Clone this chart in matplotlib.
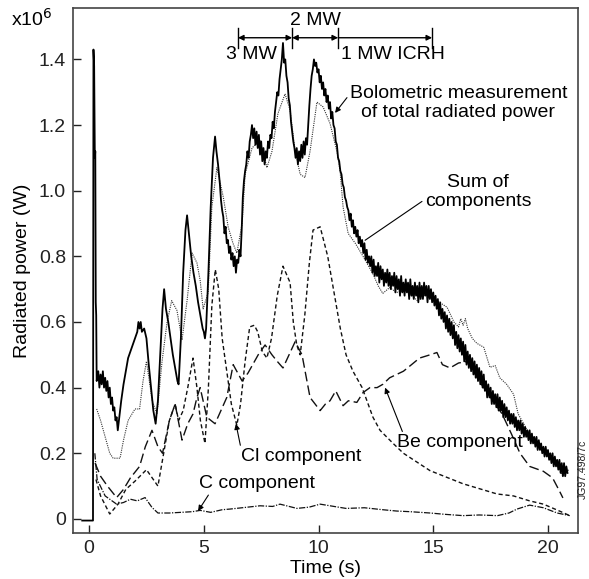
import matplotlib
matplotlib.use("Agg")
import matplotlib.pyplot as plt

plt.rcParams['font.family'] = ['Liberation Sans', 'DejaVu Sans']

# ---- data (time in s, power in 1e6 W) ----
bolo_t = [-0.3, 0.17, 0.19, 0.22, 0.25, 0.27, 0.29, 0.31, 0.33,
          0.4, 0.45, 0.5, 0.55, 0.6, 0.65, 0.7, 0.75, 0.8, 0.85, 0.9, 0.95, 1.0, 1.05, 1.1, 1.15, 1.2, 1.25, 1.3,
          1.4, 1.5, 1.6, 1.7, 1.8, 1.9, 2.0, 2.1, 2.15, 2.2, 2.25, 2.3, 2.4, 2.5, 2.6, 2.7, 2.8, 2.9,
          3.0, 3.1, 3.2, 3.27, 3.35, 3.45, 3.55, 3.65, 3.75, 3.85, 3.9, 4.0, 4.1, 4.2, 4.27, 4.35, 4.45,
          4.55, 4.65, 4.75, 4.85, 4.9, 4.95, 5.0, 5.05, 5.1, 5.2, 5.3, 5.4, 5.49, 5.55, 5.62, 5.7, 5.75,
          5.8, 5.85, 5.9, 5.95, 6.0, 6.05, 6.1, 6.15, 6.2, 6.25, 6.3, 6.35, 6.4, 6.45, 6.5, 6.55, 6.6,
          6.65, 6.7, 6.75, 6.8, 6.85, 6.9, 6.95, 7.0, 7.05, 7.1, 7.15, 7.2, 7.25, 7.3, 7.35, 7.4, 7.45,
          7.5, 7.55, 7.6, 7.65, 7.7, 7.75, 7.8, 7.85, 7.9, 7.95, 8.0, 8.05, 8.1, 8.15, 8.2, 8.25, 8.3,
          8.35, 8.4, 8.45, 8.5, 8.55, 8.6, 8.65, 8.7, 8.75, 8.8, 8.85, 8.9, 8.95, 9.0, 9.05, 9.1, 9.15,
          9.2, 9.25, 9.3, 9.35, 9.4, 9.45, 9.5, 9.55, 9.6, 9.65, 9.7, 9.75, 9.8, 9.85, 9.9, 9.95, 10.0,
          10.05, 10.1, 10.15, 10.2, 10.25, 10.3, 10.35, 10.4, 10.45, 10.5, 10.55, 10.6, 10.65, 10.7,
          10.75, 10.8, 10.85, 10.9, 10.95, 11.0, 11.05, 11.1, 11.15, 11.2, 11.25, 11.3, 11.35, 11.4,
          11.45, 11.5, 11.55, 11.6, 11.65, 11.7, 11.75, 11.8, 11.85, 11.9, 11.95, 12.0, 12.05, 12.1,
          12.15, 12.2, 12.25, 12.3, 12.35, 12.4, 12.45, 12.5, 12.55, 12.6, 12.65, 12.7, 12.75, 12.8,
          12.85, 12.9, 12.95, 13.0, 13.05, 13.1, 13.15, 13.2, 13.25, 13.3, 13.35, 13.4, 13.45, 13.5,
          13.55, 13.6, 13.65, 13.7, 13.75, 13.8, 13.85, 13.9, 13.95, 14.0, 14.05, 14.1, 14.15, 14.2,
          14.25, 14.3, 14.35, 14.4, 14.45, 14.5, 14.55, 14.6, 14.65, 14.7, 14.75, 14.8, 14.85, 14.9,
          14.95, 15.0, 15.05, 15.1, 15.15, 15.2, 15.25, 15.3, 15.35, 15.4, 15.45, 15.5, 15.55, 15.6,
          15.65, 15.7, 15.75, 15.8, 15.85, 15.9, 15.95, 16.0, 16.05, 16.1, 16.15, 16.2, 16.25, 16.3,
          16.35, 16.4, 16.45, 16.5, 16.55, 16.6, 16.65, 16.7, 16.75, 16.8, 16.85, 16.9, 16.95, 17.0,
          17.05, 17.1, 17.15, 17.2, 17.25, 17.3, 17.35, 17.4, 17.45, 17.5, 17.55, 17.6, 17.65, 17.7,
          17.75, 17.8, 17.85, 17.9, 17.95, 18.0, 18.05, 18.1, 18.15, 18.2, 18.25, 18.3, 18.35, 18.4,
          18.45, 18.5, 18.55, 18.6, 18.65, 18.7, 18.75, 18.8, 18.85, 18.9, 18.95, 19.0, 19.05, 19.1,
          19.15, 19.2, 19.25, 19.3, 19.35, 19.4, 19.45, 19.5, 19.55, 19.6, 19.65, 19.7, 19.75, 19.8,
          19.85, 19.9, 19.95, 20.0, 20.05, 20.1, 20.15, 20.2, 20.25, 20.3, 20.35, 20.4, 20.45, 20.5,
          20.55, 20.6, 20.65, 20.7, 20.75, 20.8, 20.85]
bolo_v = [-0.005, -0.005, 1.43, 1.38, 1.10, 1.12, 0.66, 0.62, 0.42,
          0.45, 0.40, 0.44, 0.41, 0.45, 0.40, 0.43, 0.39, 0.42, 0.37, 0.40, 0.35, 0.37, 0.33, 0.34, 0.30, 0.31, 0.27, 0.30,
          0.36, 0.41, 0.45, 0.49, 0.51, 0.53, 0.55, 0.57, 0.60, 0.58, 0.60, 0.57, 0.58, 0.55, 0.47, 0.40, 0.33, 0.29,
          0.36, 0.50, 0.64, 0.70, 0.64, 0.60, 0.55, 0.50, 0.46, 0.42, 0.41, 0.55, 0.75, 0.88, 0.925, 0.87, 0.80,
          0.75, 0.71, 0.66, 0.62, 0.60, 0.58, 0.57, 0.55, 0.58, 0.75, 0.95, 1.10, 1.165, 1.12, 1.08, 1.02, 0.97,
          0.94, 0.92, 0.87, 0.89, 0.84, 0.85, 0.81, 0.83, 0.79, 0.81, 0.77, 0.80, 0.75, 0.79, 0.78, 0.82, 0.80,
          0.88, 0.98, 1.03, 1.06, 1.08, 1.12, 1.10, 1.15, 1.17, 1.20, 1.16, 1.19, 1.14, 1.18, 1.13, 1.17, 1.11,
          1.15, 1.09, 1.13, 1.08, 1.12, 1.10, 1.15, 1.13, 1.17, 1.16, 1.21, 1.19, 1.24, 1.27, 1.30, 1.29, 1.34,
          1.37, 1.40, 1.45, 1.39, 1.40, 1.35, 1.33, 1.28, 1.26, 1.21, 1.18, 1.15, 1.13, 1.10, 1.13, 1.08, 1.12,
          1.09, 1.14, 1.10, 1.15, 1.11, 1.16, 1.14, 1.20, 1.26, 1.31, 1.35, 1.37, 1.40, 1.38, 1.39, 1.36, 1.37,
          1.33, 1.35, 1.31, 1.33, 1.29, 1.31, 1.27, 1.29, 1.25, 1.27, 1.22, 1.24, 1.20, 1.19,
          1.15, 1.14, 1.10, 1.09, 1.06, 1.05, 1.02, 1.01, 0.98, 0.97, 0.95, 0.94, 0.91, 0.93,
          0.89, 0.91, 0.87, 0.89, 0.86, 0.88, 0.84, 0.86, 0.83, 0.85, 0.81, 0.84, 0.79, 0.82,
          0.78, 0.80, 0.77, 0.80, 0.75, 0.79, 0.74, 0.77, 0.74, 0.78, 0.72, 0.77, 0.73, 0.76,
          0.71, 0.75, 0.72, 0.76, 0.71, 0.75, 0.70, 0.74, 0.71, 0.75, 0.69, 0.74, 0.70, 0.73,
          0.68, 0.74, 0.69, 0.72, 0.68, 0.73, 0.69, 0.72, 0.67, 0.73, 0.68, 0.71, 0.67, 0.72,
          0.68, 0.71, 0.66, 0.72, 0.67, 0.71, 0.67, 0.72, 0.68, 0.71, 0.66, 0.71, 0.67, 0.70,
          0.66, 0.69, 0.65, 0.68, 0.64, 0.67, 0.62, 0.66, 0.61, 0.64, 0.60, 0.63, 0.58, 0.62,
          0.57, 0.61, 0.56, 0.60, 0.55, 0.59, 0.53, 0.57, 0.52, 0.56, 0.51, 0.55, 0.50, 0.54,
          0.48, 0.53, 0.47, 0.51, 0.46, 0.50, 0.45, 0.49, 0.44, 0.48, 0.43, 0.47, 0.42, 0.46,
          0.41, 0.45, 0.40, 0.44, 0.39, 0.42, 0.37, 0.41, 0.37, 0.40, 0.35, 0.39, 0.35, 0.38,
          0.34, 0.38, 0.33, 0.37, 0.33, 0.36, 0.31, 0.35, 0.31, 0.34, 0.30, 0.33, 0.29, 0.32,
          0.29, 0.32, 0.28, 0.31, 0.27, 0.30, 0.27, 0.30, 0.26, 0.29, 0.25, 0.28, 0.25, 0.27,
          0.24, 0.27, 0.23, 0.26, 0.23, 0.25, 0.22, 0.25, 0.21, 0.24, 0.21, 0.23, 0.20, 0.22,
          0.19, 0.22, 0.19, 0.21, 0.18, 0.20, 0.17, 0.20, 0.16, 0.19, 0.16, 0.18, 0.15, 0.18,
          0.14, 0.17, 0.13, 0.17, 0.13, 0.16, 0.14]

sum_t = [0.33, 0.5, 0.7, 0.9, 1.05, 1.35, 1.5, 1.7, 2.0, 2.2, 2.35, 2.5, 2.75, 2.96, 3.18, 3.4, 3.6,
         3.83, 4.05, 4.27, 4.49, 4.7, 4.84, 4.97, 5.19, 5.35, 5.57, 5.85, 6.06, 6.27, 6.44, 6.67, 6.8,
         7.1, 7.45, 7.75, 7.97, 8.23, 8.54, 8.76, 8.98, 9.2, 9.41, 9.63, 9.93, 10.2, 10.5, 10.8, 10.94,
         11.07, 11.29, 11.6, 11.94, 12.37, 12.6, 12.8, 13.1, 13.4, 13.86, 14.3, 14.7, 15.16, 15.6, 15.9,
         16.1, 16.2, 16.3, 16.4, 16.5, 16.7, 16.9, 17.2, 17.47, 17.7, 17.9, 18.2, 18.5, 18.7, 19.1, 19.5,
         19.95, 20.4, 20.65, 20.9]
sum_v = [0.335, 0.30, 0.25, 0.20, 0.185, 0.185, 0.24, 0.30, 0.335, 0.335, 0.42, 0.48, 0.36, 0.32, 0.48,
         0.60, 0.665, 0.635, 0.545, 0.665, 0.81, 0.78, 0.727, 0.64, 0.69, 0.95, 1.07, 0.98, 0.89, 0.84,
         0.81, 0.90, 1.05, 1.13, 1.155, 1.07, 1.12, 1.235, 1.295, 1.245, 1.12, 1.05, 1.04, 1.12, 1.27,
         1.255, 1.205, 1.12, 1.06, 0.95, 0.87, 0.84, 0.80, 0.747, 0.71, 0.687, 0.705, 0.69, 0.697, 0.665,
         0.687, 0.665, 0.645, 0.60, 0.585, 0.61, 0.59, 0.61, 0.58, 0.55, 0.535, 0.523, 0.462, 0.467, 0.43,
         0.41, 0.38, 0.32, 0.27, 0.23, 0.20, 0.167, 0.13, 0.15]

cl_t = [0.3, 0.5, 0.9, 1.26, 1.6, 2.0, 2.5, 2.7, 3.0, 3.2, 3.5, 3.75, 3.9, 4.1, 4.3, 4.53, 4.7, 4.85,
        5.05, 5.2, 5.35, 5.5, 5.65, 5.8, 6.0, 6.2, 6.44, 6.6, 6.8, 7.0, 7.2, 7.35, 7.55, 7.75, 7.95, 8.2,
        8.45, 8.76, 8.9, 9.05, 9.2, 9.4, 9.6, 9.76, 10.07, 10.4, 10.7, 10.95, 11.2, 11.5, 11.9, 12.37,
        12.68, 13.25, 13.7, 14.86, 16.3, 17.78, 18.5, 19.2, 19.8, 20.5, 20.95]
cl_v = [0.12, 0.07, 0.015, 0.045, 0.09, 0.115, 0.15, 0.13, 0.10, 0.18, 0.30, 0.35, 0.30, 0.33, 0.40,
        0.49, 0.40, 0.30, 0.23, 0.40, 0.65, 0.76, 0.70, 0.55, 0.45, 0.35, 0.285, 0.35, 0.48, 0.585, 0.59,
        0.57, 0.51, 0.49, 0.55, 0.68, 0.77, 0.72, 0.60, 0.53, 0.50, 0.62, 0.78, 0.88, 0.89, 0.80, 0.68,
        0.58, 0.50, 0.45, 0.40, 0.31, 0.27, 0.23, 0.20, 0.147, 0.107, 0.076, 0.07, 0.055, 0.045, 0.024, 0.01]

be_t = [0.26, 0.5, 0.8, 1.2, 1.5, 1.8, 2.2, 2.45, 2.74, 3.0, 3.2, 3.5, 3.75, 4.05, 4.3, 4.53, 4.7, 4.84,
        5.13, 5.49, 6.0, 6.28, 6.67, 6.93, 7.37, 7.67, 7.97, 8.2, 8.45, 8.98, 9.28, 9.63, 10.07, 10.3,
        10.5, 10.75, 11.07, 11.3, 11.67, 11.94, 12.24, 12.55, 12.8, 13.1, 13.4, 13.7, 14.0, 14.4, 14.86,
        15.16, 15.4, 15.73, 16.1, 16.5, 17.0, 17.5, 18.0, 18.4, 18.78, 19.2, 19.8, 20.2, 20.5, 20.65]
be_v = [0.17, 0.13, 0.10, 0.065, 0.09, 0.125, 0.16, 0.22, 0.27, 0.22, 0.20, 0.30, 0.35, 0.24, 0.29, 0.32,
        0.37, 0.40, 0.31, 0.29, 0.37, 0.47, 0.42, 0.445, 0.50, 0.53, 0.50, 0.48, 0.46, 0.54, 0.50, 0.37,
        0.33, 0.35, 0.36, 0.39, 0.345, 0.36, 0.355, 0.385, 0.40, 0.40, 0.41, 0.43, 0.44, 0.45, 0.467,
        0.49, 0.50, 0.507, 0.47, 0.46, 0.475, 0.48, 0.42, 0.37, 0.32, 0.26, 0.20, 0.16, 0.145, 0.125,
        0.085, 0.064]

c_t = [0.25, 0.35, 0.7, 1.2, 1.5, 1.8, 2.1, 2.44, 2.74, 3.0, 3.5, 4.0, 4.5, 4.84, 5.3, 5.8, 6.14, 6.8,
       7.45, 8.0, 8.32, 9.06, 9.6, 10.07, 10.5, 11.2, 12.0, 12.8, 13.4, 14.0, 14.86, 15.5, 16.3, 17.0,
       17.8, 18.3, 18.65, 19.2, 19.8, 20.4, 20.95]
c_v = [0.20, 0.12, 0.07, 0.045, 0.05, 0.06, 0.055, 0.065, 0.035, 0.018, 0.018, 0.02, 0.022, 0.026, 0.02,
       0.028, 0.03, 0.035, 0.04, 0.038, 0.045, 0.032, 0.036, 0.045, 0.04, 0.032, 0.034, 0.028, 0.024,
       0.022, 0.018, 0.014, 0.01, 0.012, 0.01, 0.018, 0.03, 0.042, 0.034, 0.018, 0.01]

x_ticks = [0, 5, 10, 15, 20]
y_ticks = [0, 0.2, 0.4, 0.6, 0.8, 1.0, 1.2, 1.4]
y_tick_labels = ['0', '0.2', '0.4', '0.6', '0.8', '1.0', '1.2', '1.4']

# heating phases along the top: boundaries in s and labels
phase_edges = [6.49, 8.85, 10.85, 14.95]

fig = plt.figure(figsize=(5.89, 5.79), dpi=100)
ax = fig.add_axes([0.124, 0.0794, 0.857, 0.907])

ink = '#111111'
ax.plot(c_t, c_v, color=ink, lw=0.9, ls=(0, (5, 1.2, 1, 1.2)))
ax.plot(be_t, be_v, color=ink, lw=1.0, ls=(0, (7, 3)))
ax.plot(cl_t, cl_v, color=ink, lw=1.0, ls=(0, (3, 2)))
ax.plot(sum_t, sum_v, color='#333333', lw=0.8, ls=(0, (1, 1)))
ax.plot(bolo_t, bolo_v, color='black', lw=1.3)

ax.set_xlim(-0.7, 21.3)
ax.set_ylim(-0.043, 1.557)
ax.set_xticks(x_ticks)
ax.set_yticks(y_ticks)
ax.set_yticklabels(y_tick_labels)
ax.tick_params(direction='in', length=6, width=1, labelsize=14, colors='#222222', pad=5)
for s in ax.spines.values():
    s.set_color('#444444')
    s.set_linewidth(1.2)

ax.set_xlabel('Time (s)', fontsize=14, labelpad=2)
ax.set_ylabel('Radiated power (W)', fontsize=14, labelpad=6)
fig.text(0.018, 0.968, 'x10$^6$', fontsize=14, ha='left', va='center')

# heating phase brackets
for t in phase_edges:
    ax.plot([t, t], [1.435, 1.495], color='black', lw=1.0)
arr = dict(arrowstyle='<|-|>', color='black', lw=1.0, mutation_scale=8, shrinkA=0, shrinkB=0)
ax.annotate('', xy=(phase_edges[0], 1.466), xytext=(phase_edges[1], 1.466), arrowprops=arr)
ax.annotate('', xy=(phase_edges[1], 1.466), xytext=(phase_edges[2], 1.466), arrowprops=arr)
ax.annotate('', xy=(phase_edges[2], 1.466), xytext=(phase_edges[3], 1.466),
            arrowprops=dict(arrowstyle='<|-', color='black', lw=1.0, mutation_scale=8, shrinkA=0, shrinkB=0))
ax.text(7.06, 1.415, '3 MW', fontsize=14, ha='center', va='center')
ax.text(9.85, 1.52, '2 MW', fontsize=14, ha='center', va='center')
ax.text(13.25, 1.414, '1 MW ICRH', fontsize=14, ha='center', va='center')

ax.annotate('Bolometric measurement\nof total radiated power', xy=(10.72, 1.237), xytext=(16.1, 1.267),
            fontsize=14, ha='center', va='center', linespacing=1.15,
            arrowprops=dict(arrowstyle='-|>', color='black', lw=0.8, mutation_scale=8,
                            shrinkA=0, shrinkB=0, relpos=(0.0, 0.75)))
ax.annotate('Sum of\ncomponents', xy=(12.03, 0.849), xytext=(16.95, 0.995),
            fontsize=14, ha='center', va='center', linespacing=1.15,
            arrowprops=dict(arrowstyle='-', color='black', lw=0.8, shrinkA=0, shrinkB=0,
                            relpos=(0.0, 0.3)))
ax.annotate('Cl component', xy=(6.4, 0.29), xytext=(9.24, 0.19),
            fontsize=14, ha='center', va='center',
            arrowprops=dict(arrowstyle='-|>', color='black', lw=0.8, mutation_scale=8,
                            shrinkA=0, shrinkB=0, relpos=(0.0, 1.0)))
ax.annotate('C component', xy=(4.75, 0.024), xytext=(7.3, 0.107),
            fontsize=14, ha='center', va='center',
            arrowprops=dict(arrowstyle='-|>', color='black', lw=0.8, mutation_scale=8,
                            shrinkA=0, shrinkB=0, relpos=(0.1, 0.0)))
ax.annotate('Be component', xy=(12.9, 0.40), xytext=(16.17, 0.232),
            fontsize=14, ha='center', va='center',
            arrowprops=dict(arrowstyle='-|>', color='black', lw=0.8, mutation_scale=8,
                            shrinkA=0, shrinkB=0, relpos=(0.05, 1.0)))

fig.text(0.99, 0.19, 'JG97.498/7c', fontsize=7.5, rotation=90, ha='center', va='center', color='#222222')

fig.savefig('out.png', dpi=100)
